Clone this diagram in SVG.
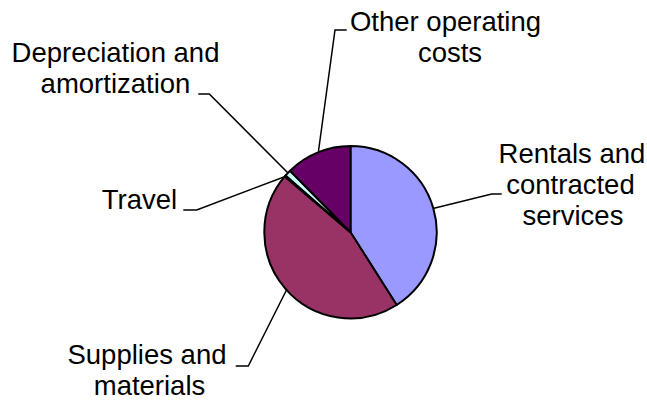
<svg xmlns="http://www.w3.org/2000/svg" width="647" height="402" viewBox="0 0 647 402">
<style>
  .lbl { font-family: "Liberation Sans", Arial, sans-serif; font-size: 27.5px; fill: #000; text-anchor: middle; }
  .slice { stroke: #000; stroke-width: 2; stroke-linejoin: round; }
  .leader { fill: none; stroke: #000; stroke-width: 1.5; }
</style>
<rect width="647" height="402" fill="#fff"/>
<g id="pie">
  <path id="slice-rentals" class="slice" fill="#9999FF" d="M350.5,232.2 L350.5,146 A86.2,86.2 0 0 1 396.69,304.98 Z"/>
  <path id="slice-supplies" class="slice" fill="#993366" d="M350.5,232.2 L396.69,304.98 A86.2,86.2 0 0 1 284.76,176.45 Z"/>
  <path id="slice-travel" class="slice" fill="#FFFFCC" d="M350.5,232.2 L284.76,176.45 A86.2,86.2 0 0 1 285.64,175.42 Z"/>
  <path id="slice-depreciation" class="slice" fill="#CCFFFF" d="M350.5,232.2 L285.64,175.42 A86.2,86.2 0 0 1 290.08,170.71 Z"/>
  <path id="slice-other" class="slice" fill="#660066" d="M350.5,232.2 L290.08,170.71 A86.2,86.2 0 0 1 350.5,146 Z"/>
</g>
<g id="connectors">
  <polyline class="leader" points="434,208.2 491.7,194 501.7,194"/>
  <polyline class="leader" points="287,289 248.3,366 235.7,366"/>
  <polyline class="leader" points="285.2,176.5 196.7,210 183.3,210"/>
  <polyline class="leader" points="288,173 209.3,94 198.3,94"/>
  <polyline class="leader" points="318.5,151 335,30 346.7,30"/>
</g>
<g id="label-other">
  <text class="lbl" x="445.5" y="31">Other operating</text>
  <text class="lbl" x="450" y="62">costs</text>
</g>
<g id="label-depreciation">
  <text class="lbl" x="115.5" y="62">Depreciation and</text>
  <text class="lbl" x="115.5" y="93">amortization</text>
</g>
<g id="label-rentals">
  <text class="lbl" x="572" y="162.5">Rentals and</text>
  <text class="lbl" x="570.5" y="193.5">contracted</text>
  <text class="lbl" x="573" y="224.5">services</text>
</g>
<g id="label-travel">
  <text class="lbl" x="139.5" y="208.5">Travel</text>
</g>
<g id="label-supplies">
  <text class="lbl" x="147" y="363.5">Supplies and</text>
  <text class="lbl" x="149.5" y="395">materials</text>
</g>
</svg>
